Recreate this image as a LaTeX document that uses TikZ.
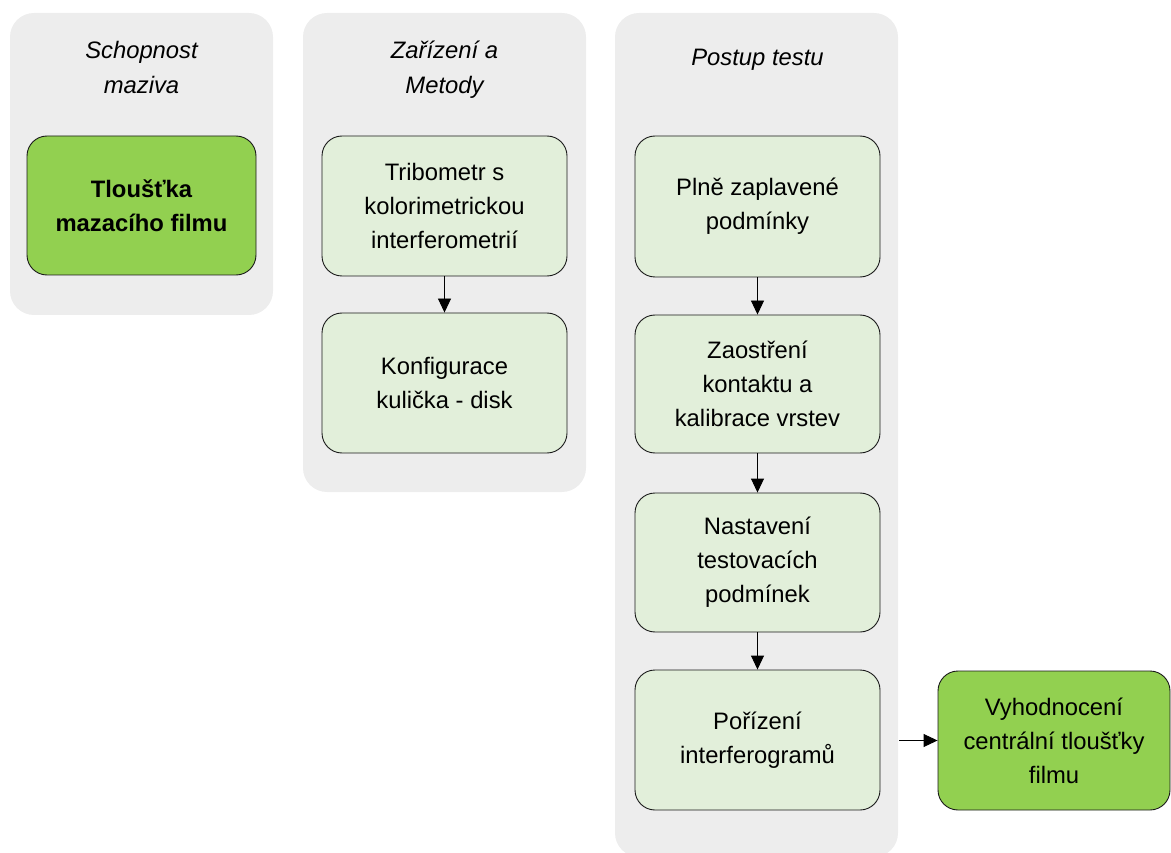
\documentclass[tikz,border=0pt]{standalone}
\usepackage{fontspec}
\setmainfont{Liberation Sans}
\usetikzlibrary{arrows.meta}
\definecolor{lanegray}{HTML}{EDEDED}
\definecolor{stepgreen}{HTML}{E2EFDA}
\definecolor{keygreen}{HTML}{92D050}
\definecolor{edge}{HTML}{1A1A1A}
\begin{document}
\begin{tikzpicture}[x=1pt,y=-1pt,
  every node/.style={font=\fontsize{23.8pt}{34pt}\selectfont, align=center, inner sep=0pt},
  lane/.style={fill=lanegray, rounded corners=24pt, draw=none},
  lanetitle/.style={font=\fontsize{23.8pt}{35pt}\selectfont\itshape},
  stepbox/.style={draw=edge, line width=0.9pt, fill=stepgreen, rounded corners=20pt,
                  minimum width=245pt, minimum height=140pt},
  keybox/.style={stepbox, fill=keygreen},
  arr/.style={draw=black, line width=0.9pt, -{Triangle[length=14pt,width=13pt]}}
]
\useasboundingbox (0,0) rectangle (1171,853);

% swimlane backgrounds
\node[lane, minimum width=263pt, minimum height=302pt] (lane1) at (141.5,164) {};
\node[lane, minimum width=283pt, minimum height=479pt] (lane2) at (444.5,252.5) {};
\node[lane, minimum width=283pt, minimum height=844pt] (lane3) at (756.5,435) {};

% lane titles
\node[lanetitle] (title1) at (141.5,67.5) {Schopnost\\maziva};
\node[lanetitle] (title2) at (444.5,69.5) {Zařízení a\\Metody};
\node[lanetitle] (title3) at (757.5,60) {Postup testu};

% lubricant property
\node[keybox, minimum width=229pt, minimum height=139pt, font=\fontsize{23.8pt}{34pt}\selectfont\bfseries]
  (film) at (141.5,205.5) {Tloušťka\\mazacího filmu};

% equipment and methods
\node[stepbox] (tribo) at (444.5,206) {Tribometr s\\kolorimetrickou\\interferometrií};
\node[stepbox] (config) at (444.5,383) {Konfigurace\\kulička - disk};

% test procedure
\node[stepbox, minimum height=141pt] (flood) at (757.5,206.5) {Plně zaplavené\\podmínky};
\node[stepbox, minimum height=138pt] (focus) at (757.5,384) {Zaostření\\kontaktu a\\kalibrace vrstev};
\node[stepbox, minimum height=139pt] (setup) at (757.5,562.5) {Nastavení\\testovacích\\podmínek};
\node[stepbox] (capture) at (757.5,740) {Pořízení\\interferogramů};

% evaluation
\node[keybox, minimum width=232pt, minimum height=139pt] (eval) at (1054,740.5)
  {Vyhodnocení\\centrální tloušťky\\filmu};

% connectors
\draw[arr] (tribo) -- (config);
\draw[arr] (flood) -- (focus);
\draw[arr] (focus) -- (setup);
\draw[arr] (setup) -- (capture);
\coordinate (evalin) at (899,740.5);
\draw[arr] (evalin) -- (eval.west);
\end{tikzpicture}
\end{document}
